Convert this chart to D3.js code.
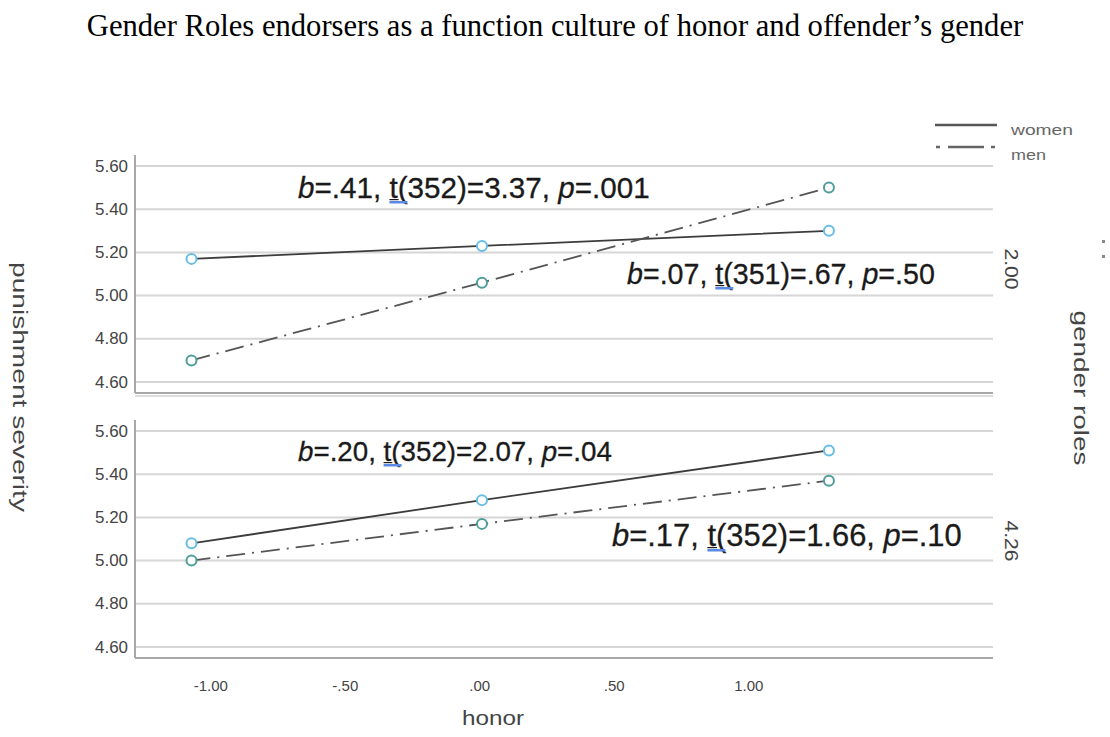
<!DOCTYPE html>
<html><head><meta charset="utf-8">
<script src="https://cdn.jsdelivr.net/npm/d3@7"></script>
<style>body{margin:0;background:#fff}svg{display:block}</style>
</head><body>
<svg id="c" width="1110" height="737"></svg>
<script>
// ---- data ----
const honorX = [-1.07, 0.01, 1.30];
const panelLabels = ["2.00", "4.26"];
const womenTop = [5.17, 5.23, 5.30];
const menTop = [4.70, 5.06, 5.50];
const womenBottom = [5.08, 5.28, 5.51];
const menBottom = [5.00, 5.17, 5.37];
const yTicks = [4.60, 4.80, 5.00, 5.20, 5.40, 5.60];
const xTicks = [-1.00, -0.50, 0.00, 0.50, 1.00];
const xTickLabels = ["-1.00", "-.50", ".00", ".50", "1.00"];
const seriesNames = ["women", "men"];
const annotations = [
  ["b", "=.41, ", "t", "(352)=3.37, ", "p", "=.001"],
  ["b", "=.07, ", "t", "(351)=.67, ", "p", "=.50"],
  ["b", "=.20, ", "t", "(352)=2.07, ", "p", "=.04"],
  ["b", "=.17, ", "t", "(352)=1.66, ", "p", "=.10"]
];

const FONT = "Liberation Sans, Arial, sans-serif";
const svg = d3.select("#c");
const L = 135, R = 993;
const x = d3.scaleLinear().domain([-1.28, 1.91]).range([L, R]);
const panelBox = [[155, 393], [420, 658]];
const ys = panelBox.map(([t, b]) => d3.scaleLinear().domain([4.549, 5.651]).range([b, t]));
const panelData = [[womenTop, menTop], [womenBottom, menBottom]];

function fitText(sel, target) {
  const w = sel.node().getComputedTextLength();
  const fs = parseFloat(sel.attr("font-size"));
  sel.attr("font-size", fs * target / w);
}
function stretch(sel, target) {
  sel.attr("textLength", target).attr("lengthAdjust", "spacingAndGlyphs");
}

// title
const title = svg.append("text").attr("x", 555).attr("y", 36).attr("text-anchor", "middle")
  .attr("font-family", "Liberation Serif, Times New Roman, serif").attr("font-size", 24).attr("fill", "#000")
  .text("Gender Roles endorsers as a function culture of honor and offender\u2019s gender");
fitText(title, 937);

panelBox.forEach(([top, bot], i) => {
  const y = ys[i];
  const g = svg.append("g");
  g.selectAll("line.grid").data(yTicks).join("line")
    .attr("x1", L).attr("x2", R).attr("y1", d => y(d)).attr("y2", d => y(d))
    .attr("stroke", "#d6d6d6").attr("stroke-width", 2);
  const ax = g.append("g").attr("transform", `translate(${L},0)`)
    .call(d3.axisLeft(y).tickValues(yTicks).tickFormat(d3.format(".2f")).tickSize(0).tickPadding(7));
  ax.select(".domain").remove();
  ax.selectAll("text").attr("font-family", FONT).attr("font-size", 16).attr("fill", "#444")
    .each(function () { stretch(d3.select(this), 33); });
  g.append("line").attr("x1", L).attr("x2", L).attr("y1", top).attr("y2", bot).attr("stroke", "#a8a8a8").attr("stroke-width", 2);
  g.append("line").attr("x1", L).attr("x2", R).attr("y1", bot).attr("y2", bot).attr("stroke", "#a8a8a8").attr("stroke-width", 2);
  if (i === 0) g.append("line").attr("x1", L).attr("x2", R).attr("y1", bot + 3).attr("y2", bot + 3).attr("stroke", "#d0d0d0").attr("stroke-width", 1.5);

  const [w, m] = panelData[i];
  const line = d3.line().x((d, j) => x(honorX[j])).y(d => y(d));
  g.append("path").attr("d", line(w)).attr("fill", "none").attr("stroke", "#3c3c3c").attr("stroke-width", 1.8);
  g.append("path").attr("d", line(m)).attr("fill", "none").attr("stroke", "#555").attr("stroke-width", 1.8)
    .attr("stroke-dasharray", "19,7,2,7");
  g.selectAll("circle.w").data(w).join("circle").attr("cx", (d, j) => x(honorX[j])).attr("cy", d => y(d))
    .attr("r", 5).attr("fill", "#fff").attr("stroke", "#66bde6").attr("stroke-width", 2);
  g.selectAll("circle.m").data(m).join("circle").attr("cx", (d, j) => x(honorX[j])).attr("cy", d => y(d))
    .attr("r", 5).attr("fill", "#fff").attr("stroke", "#4f9d9a").attr("stroke-width", 2);
});

// panel labels on the right
const panelLabelY = [269, 541];
panelLabels.forEach((lab, i) => {
  const t = svg.append("text").attr("transform", `translate(1005,${panelLabelY[i]}) rotate(90)`)
    .attr("text-anchor", "middle").attr("font-family", FONT)
    .attr("font-size", 19).attr("fill", "#444").text(lab);
  stretch(t, 41);
});

// x axis
const xa = svg.append("g").attr("transform", `translate(0,${panelBox[1][1]})`)
  .call(d3.axisBottom(x).tickValues(xTicks).tickFormat((d, i) => xTickLabels[i]).tickSize(0).tickPadding(22));
xa.select(".domain").remove();
xa.selectAll("text").attr("font-family", FONT).attr("font-size", 15).attr("fill", "#444");

// axis titles
const yt = svg.append("text").attr("transform", "translate(13,387) rotate(90)").attr("text-anchor", "middle")
  .attr("font-family", FONT).attr("font-size", 20).attr("fill", "#444").text("punishment severity");
stretch(yt, 250);
const xt = svg.append("text").attr("x", 493).attr("y", 725).attr("text-anchor", "middle")
  .attr("font-family", FONT).attr("font-size", 20).attr("fill", "#444").text("honor");
stretch(xt, 62);
const rt = svg.append("text").attr("transform", "translate(1074,388) rotate(90)").attr("text-anchor", "middle")
  .attr("font-family", FONT).attr("font-size", 20).attr("fill", "#444").text("gender roles");
stretch(rt, 155);
svg.append("rect").attr("x", 1102).attr("y", 240).attr("width", 3).attr("height", 3).attr("fill", "#888");
svg.append("rect").attr("x", 1102).attr("y", 255).attr("width", 3).attr("height", 3).attr("fill", "#888");

// legend
const lg = svg.append("g");
lg.append("line").attr("x1", 935).attr("x2", 997).attr("y1", 125).attr("y2", 125).attr("stroke", "#555").attr("stroke-width", 2.5);
[[936, 940], [948, 984], [991, 995]].forEach(([a, b]) => {
  lg.append("line").attr("x1", a).attr("x2", b).attr("y1", 147).attr("y2", 147).attr("stroke", "#666").attr("stroke-width", 2.5);
});
const legW = [62, 35];
lg.selectAll("text").data(seriesNames).join("text").attr("x", 1011).attr("y", (d, i) => 135 + i * 25)
  .attr("font-family", FONT).attr("font-size", 15).attr("fill", "#666").text(d => d)
  .each(function (d, i) { stretch(d3.select(this), legW[i]); });

// annotations
const annPos = [[298, 198, 352], [627, 284, 308], [298, 461, 314], [612, 546, 350]];
annotations.forEach((parts, k) => {
  const [ax0, ay0, aw] = annPos[k];
  const t = svg.append("text").attr("x", ax0).attr("y", ay0)
    .attr("font-family", FONT).attr("font-size", 22).attr("fill", "#1a1a1a")
    .attr("stroke", "#1a1a1a").attr("stroke-width", 0.3);
  parts.forEach((p, j) => {
    t.append("tspan").attr("font-style", (j === 0 || j === 4) ? "italic" : "normal").text(p);
  });
  fitText(t, aw);
  const ext = t.node().getExtentOfChar(7);
  svg.append("rect").attr("x", ext.x).attr("y", ay0 + 3).attr("width", 18).attr("height", 2.5).attr("fill", "#5a8ae6");
  svg.append("rect").attr("x", ext.x).attr("y", ay0 + 1).attr("width", ext.width + 1).attr("height", 1.2).attr("fill", "#1a1a1a");
});
</script>
</body></html>
